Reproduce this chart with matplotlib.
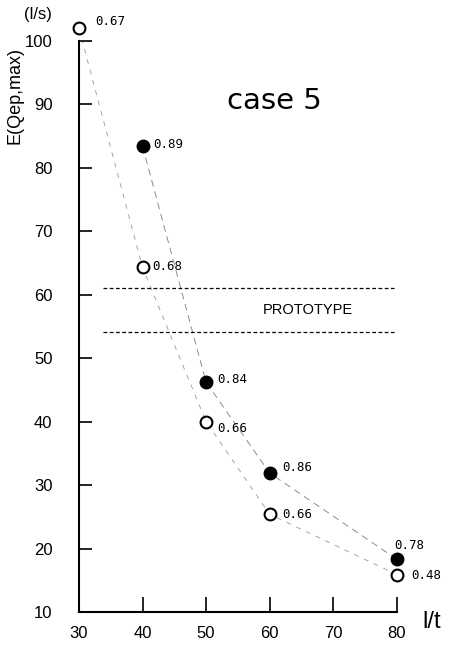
import matplotlib
matplotlib.use("Agg")
import matplotlib.pyplot as plt

# measured points, case 5
x_open = [30, 40, 50, 60, 80]
y_open = [102.0, 64.3, 40.0, 25.4, 15.9]
lab_open = ['0.67', '0.68', '0.66', '0.66', '0.48']

x_full = [40, 50, 60, 80]
y_full = [83.4, 46.2, 31.9, 18.3]
lab_full = ['0.89', '0.84', '0.86', '0.78']

proto_lo, proto_hi = 54.2, 61.0
proto_x = [33.8, 79.5]

xticks = [30, 40, 50, 60, 70, 80]
yticks = [10, 20, 30, 40, 50, 60, 70, 80, 90, 100]

narrow = 'Liberation Sans'
mono = 'DejaVu Sans Mono'

fig = plt.figure(figsize=(4.51, 6.46), dpi=100)
ax = fig.add_axes([0.175, 0.0526, 0.705, 0.884])

# fitted trend lines (faint, broken)
ax.plot(x_open, y_open, color='0.65', lw=0.7, ls=(0, (5, 6)), zorder=1)
ax.plot(x_full, y_full, color='0.55', lw=0.7, ls=(0, (7, 5)), zorder=1)

ax.plot(x_open, y_open, 'o', ms=8.5, mfc='white', mec='black', mew=1.5,
        ls='none', clip_on=False, zorder=3)
ax.plot(x_full, y_full, 'o', ms=9, mfc='black', mec='black',
        ls='none', clip_on=False, zorder=3)

# value labels next to each point
off_open = [(12, 5), (7, 1), (8, -5), (9, 0), (10, -1)]
off_full = [(8, 1), (8, 2), (9, 4), (-2, 10)]
for x, y, s, (dx, dy) in zip(x_open, y_open, lab_open, off_open):
    ax.annotate(s, (x, y), xytext=(dx, dy), textcoords='offset points',
                fontsize=9, family=mono, va='center', annotation_clip=False)
for x, y, s, (dx, dy) in zip(x_full, y_full, lab_full, off_full):
    ax.annotate(s, (x, y), xytext=(dx, dy), textcoords='offset points',
                fontsize=9, family=mono, va='center', annotation_clip=False)

# prototype band
for yv in (proto_lo, proto_hi):
    ax.plot(proto_x, [yv, yv], color='black', lw=0.9, ls=(0, (3, 2)))
ax.text(66, 57.6, 'PROTOTYPE', fontsize=10.5, family=narrow,
        ha='center', va='center')

ax.text(60.8, 90.6, 'case 5', fontsize=21, ha='center', va='center')

ax.set_xlim(30, 80)
ax.set_ylim(10, 100)
ax.set_xticks(xticks)
ax.set_yticks(yticks)
ax.tick_params(axis='y', direction='in', length=9, width=1.2, pad=19,
               labelsize=12)
ax.tick_params(axis='x', direction='in', length=11, width=1.2, pad=10,
               labelsize=12)
for lab in ax.get_xticklabels() + ax.get_yticklabels():
    lab.set_family(narrow)

ax.spines['top'].set_visible(False)
ax.spines['right'].set_visible(False)
ax.spines['left'].set_linewidth(1.5)
ax.spines['bottom'].set_linewidth(1.5)

fig.text(15 / 451, 1 - 95 / 646, 'E(Qep,max)', rotation=90, fontsize=13,
         family=narrow, ha='center', va='center')
fig.text(38 / 451, 1 - 15 / 646, '(l/s)', fontsize=12, family=narrow,
         ha='center', va='center')
fig.text(432 / 451, 1 - 622 / 646, 'l/t', fontsize=17, family=narrow,
         ha='center', va='center')

fig.savefig('out.png', dpi=100)
